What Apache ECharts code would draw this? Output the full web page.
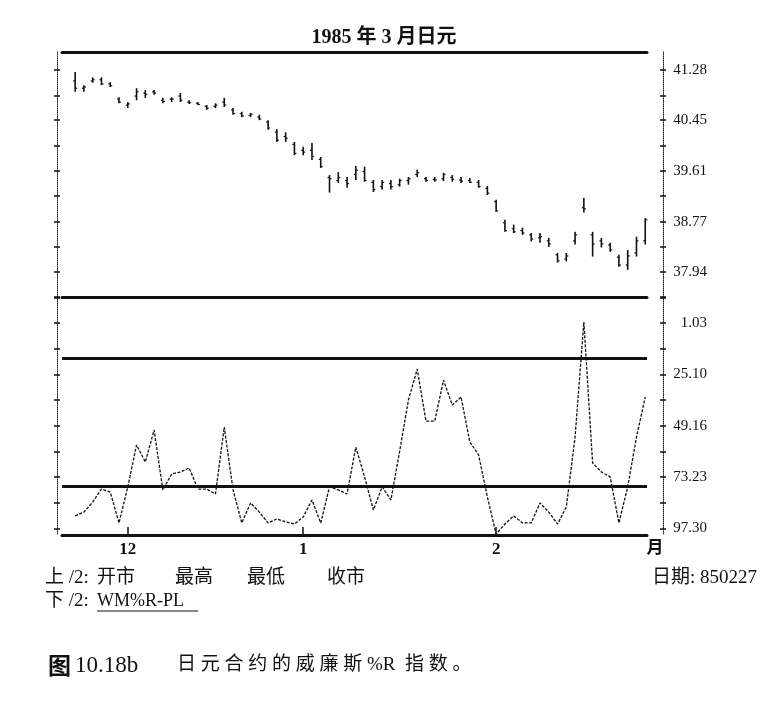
<!DOCTYPE html>
<html>
<head>
<meta charset="utf-8">
<title>日元合约的威廉斯%R指数</title>
<script src="https://cdn.jsdelivr.net/npm/echarts@6/dist/echarts.min.js"></script>
<style>
    html, body {margin: 0; padding: 0; background: #fff;}
    #main {width: 768px; height: 722px;}
</style>
</head>
<body>
<div id="main"></div>
<script>
// 交易日 841123 - 850227
var dates = ['841123','841126','841127','841128','841129','841130',
    '841203','841204','841205','841206','841207','841210','841211','841212','841213','841214',
    '841217','841218','841219','841220','841221','841224','841226','841227','841228','841231',
    '850102','850103','850104','850107','850108','850109','850110','850111','850114','850115',
    '850116','850117','850118','850121','850122','850123','850124','850125','850128','850129',
    '850130','850131',
    '850201','850204','850205','850206','850207','850208','850211','850212','850213','850214',
    '850215','850219','850220','850221','850222','850225','850226','850227'];

// 上图: 开市 最高 最低 收市
var openP = [41.10,40.98,41.10,41.12,41.05,40.80,40.70,40.85,40.90,40.92,
    40.78,40.80,40.85,40.75,40.73,40.68,40.68,40.75,40.62,40.56,
    40.53,40.50,40.42,40.25,40.18,40.05,39.95,39.95,39.80,39.50,
    39.45,39.45,39.55,39.60,39.42,39.35,39.40,39.38,39.45,39.55,
    39.48,39.47,39.48,39.50,39.46,39.45,39.42,39.32,39.10,38.75,
    38.65,38.62,38.55,38.50,38.45,38.22,38.15,38.45,39.00,38.55,
    38.45,38.38,38.18,38.05,38.25,38.45];
var highP = [41.25,41.03,41.16,41.16,41.08,40.83,40.75,40.98,40.95,40.95,
    40.82,40.83,40.90,40.78,40.75,40.70,40.73,40.82,40.65,40.59,
    40.57,40.54,40.45,40.30,40.25,40.09,40.01,40.07,39.84,39.54,
    39.59,39.51,39.69,39.68,39.46,39.46,39.46,39.48,39.51,39.63,
    39.51,39.51,39.58,39.54,39.51,39.49,39.46,39.36,39.13,38.80,
    38.72,38.67,38.58,38.58,38.50,38.25,38.25,38.60,39.16,38.60,
    38.50,38.42,38.22,38.30,38.52,38.83];
var lowP = [40.92,40.92,41.07,41.03,41.00,40.73,40.65,40.78,40.82,40.87,
    40.73,40.75,40.75,40.72,40.70,40.62,40.65,40.67,40.54,40.50,
    40.50,40.45,40.29,40.09,40.09,39.87,39.87,39.79,39.66,39.25,
    39.41,39.33,39.46,39.43,39.26,39.30,39.30,39.35,39.38,39.51,
    39.43,39.43,39.44,39.43,39.41,39.41,39.33,39.21,38.93,38.60,
    38.58,38.55,38.44,38.42,38.35,38.09,38.11,38.39,38.92,38.19,
    38.34,38.27,38.02,37.97,38.19,38.39];
var closeP = [40.98,41.00,41.12,41.05,41.02,40.75,40.72,40.92,40.88,40.90,
    40.76,40.80,40.78,40.74,40.71,40.65,40.70,40.70,40.56,40.52,
    40.55,40.47,40.32,40.12,40.15,39.90,39.92,39.85,39.68,39.48,
    39.50,39.40,39.62,39.45,39.30,39.42,39.35,39.45,39.48,39.58,
    39.45,39.46,39.55,39.47,39.44,39.42,39.35,39.24,38.95,38.62,
    38.60,38.58,38.48,38.52,38.40,38.12,38.20,38.55,38.98,38.40,
    38.40,38.30,38.05,38.20,38.45,38.80];

// 下图: WM%R
var wmr = [91.5,89.7,85.0,78.9,80.3,94.8,77.9,58.2,66.2,51.2,
    79.3,71.8,70.9,69.0,78.9,78.9,81.2,49.8,79.3,94.8,
    85.4,89.7,94.8,92.9,94.3,95.3,92.0,84.0,94.8,77.9,
    79.3,81.2,59.2,73.2,88.7,77.9,84.0,61.1,37.1,22.6,
    47.0,47.0,27.8,39.5,35.7,56.8,62.9,82.6,100,95.3,
    91.5,94.8,94.8,85.4,89.7,95.3,87.3,54.5,0.5,66.7,
    70.9,73.2,94.8,77.9,54.5,35.7];
var refLevels = [17.4, 77.5];

// 刻度
var priceTicks = [41.28,40.86,40.45,40.03,39.61,39.19,38.77,38.36,37.94,37.52];
var priceLabels = [41.28,40.45,39.61,38.77,37.94];
var wmrTicks = [-11.0,1.03,13.06,25.10,37.13,49.16,61.20,73.23,85.27,97.30];
var wmrLabels = [1.03,25.10,49.16,73.23,97.30];
var monthTickIdx = [6, 26, 48];
var monthLabels = ['12', '1', '2'];

var serif = "'Liberation Serif', 'Noto Sans CJK SC', serif";
var cjk = "'Liberation Serif', 'Noto Sans CJK SC', sans-serif";

function sideAxis(grid, pos, inside, showLabel, ticks, labels, min, max, inverse) {
    return {
        type: 'value',
        gridIndex: grid,
        position: pos,
        offset: pos === 'right' ? 16 : 5,
        min: min,
        max: max,
        inverse: inverse,
        axisLine: {show: !inside, onZero: false, lineStyle: {color: '#222', width: 1, type: 'dotted'}},
        axisTick: {show: true, inside: inside, length: 3, customValues: ticks,
            lineStyle: {color: '#111', width: 1.5}},
        axisLabel: {
            show: showLabel,
            customValues: labels,
            formatter: function (v) { return v.toFixed(2); },
            align: 'right',
            margin: 44,
            padding: [0, 0, 8, 0],
            fontFamily: serif,
            fontSize: 15,
            color: '#111'
        },
        splitLine: {show: false}
    };
}

function renderOHLC(params, api) {
    var x = api.value(0);
    var pO = api.coord([x, api.value(1)]);
    var pH = api.coord([x, api.value(2)]);
    var pL = api.coord([x, api.value(3)]);
    var pC = api.coord([x, api.value(4)]);
    var st = {stroke: '#111', lineWidth: 1.6};
    return {
        type: 'group',
        children: [
            {type: 'line', shape: {x1: pH[0], y1: pH[1], x2: pL[0], y2: pL[1]}, style: st},
            {type: 'line', shape: {x1: pO[0] - 2, y1: pO[1], x2: pO[0], y2: pO[1]}, style: {stroke: '#111', lineWidth: 1.2}},
            {type: 'line', shape: {x1: pC[0], y1: pC[1], x2: pC[0] + 2, y2: pC[1]}, style: {stroke: '#111', lineWidth: 1.2}}
        ]
    };
}

var ohlcData = dates.map(function (d, i) {
    return [i, openP[i], highP[i], lowP[i], closeP[i]];
});
var wmrData = dates.map(function (d, i) {
    return [i, wmr[i]];
});

var lineStyleThick = {color: '#111', width: 3};

function dayAxis(grid, pos) {
    return {
        type: 'value', gridIndex: grid, position: pos, min: -1.5, max: 65.2,
        axisLine: {show: true, onZero: false, lineStyle: lineStyleThick},
        axisTick: {show: false}, axisLabel: {show: false}, splitLine: {show: false}
    };
}

var monthAxis = dayAxis(1, 'bottom');
monthAxis.axisTick = {show: true, inside: true, length: 8, customValues: monthTickIdx,
    lineStyle: {color: '#111', width: 1.5}};
monthAxis.axisLabel = {
    show: true,
    customValues: monthTickIdx,
    formatter: function (v) { return monthLabels[monthTickIdx.indexOf(v)]; },
    margin: 6,
    fontFamily: serif,
    fontWeight: 'bold',
    fontSize: 17,
    color: '#111'
};

var myChart = echarts.init(document.getElementById('main'));
var option = {
    animation: false,
    backgroundColor: '#fff',
    grid: [
        {left: 62, right: 121, top: 52, height: 245},
        {left: 62, right: 121, top: 297, height: 238}
    ],
    xAxis: [dayAxis(0, 'bottom'), dayAxis(0, 'top'), monthAxis],
    yAxis: [
        sideAxis(0, 'right', false, true, priceTicks, priceLabels, 37.52, 41.58, false),
        sideAxis(0, 'right', true, false, priceTicks, priceLabels, 37.52, 41.58, false),
        sideAxis(0, 'left', false, false, priceTicks, priceLabels, 37.52, 41.58, false),
        sideAxis(0, 'left', true, false, priceTicks, priceLabels, 37.52, 41.58, false),
        sideAxis(1, 'right', false, true, wmrTicks, wmrLabels, -11.2, 100.45, true),
        sideAxis(1, 'right', true, false, wmrTicks, wmrLabels, -11.2, 100.45, true),
        sideAxis(1, 'left', false, false, wmrTicks, wmrLabels, -11.2, 100.45, true),
        sideAxis(1, 'left', true, false, wmrTicks, wmrLabels, -11.2, 100.45, true)
    ],
    series: [
        {
            name: '日元',
            type: 'custom',
            xAxisIndex: 0,
            yAxisIndex: 0,
            renderItem: renderOHLC,
            encode: {x: 0, y: [1, 2, 3, 4]},
            data: ohlcData
        },
        {
            name: 'WM%R-PL',
            type: 'line',
            xAxisIndex: 2,
            yAxisIndex: 4,
            symbol: 'none',
            lineStyle: {color: '#111', width: 1.3, type: [3, 1.5]},
            data: wmrData,
            markLine: {
                silent: true,
                symbol: ['none', 'none'],
                label: {show: false},
                lineStyle: {color: '#111', width: 3, type: 'solid'},
                data: refLevels.map(function (v) { return {yAxis: v}; })
            }
        }
    ],
    graphic: [
        {type: 'text', left: 'center', top: 28, style: {text: '1985 年 3 月日元', font: "bold 20px " + cjk, fill: '#111'}},
        {type: 'text', x: 655, y: 549, style: {text: '月', font: "bold 17px " + cjk, fill: '#111', align: 'center', verticalAlign: 'middle'}},
        {type: 'text', x: 45, y: 578, style: {text: '上 /2:', font: "19px " + cjk, fill: '#111', verticalAlign: 'middle'}},
        {type: 'text', x: 97, y: 578, style: {text: '开市', font: "19px " + cjk, fill: '#111', verticalAlign: 'middle'}},
        {type: 'text', x: 175, y: 578, style: {text: '最高', font: "19px " + cjk, fill: '#111', verticalAlign: 'middle'}},
        {type: 'text', x: 247, y: 578, style: {text: '最低', font: "19px " + cjk, fill: '#111', verticalAlign: 'middle'}},
        {type: 'text', x: 327, y: 578, style: {text: '收市', font: "19px " + cjk, fill: '#111', verticalAlign: 'middle'}},
        {type: 'text', x: 757, y: 578, style: {text: '日期: 850227', font: "19px " + cjk, fill: '#111', align: 'right', verticalAlign: 'middle'}},
        {type: 'text', x: 45, y: 601, style: {text: '下 /2:', font: "19px " + cjk, fill: '#111', verticalAlign: 'middle'}},
        {type: 'text', x: 97, y: 601, style: {text: 'WM%R-PL', font: "18px " + serif, fill: '#111', verticalAlign: 'middle'}},
        {type: 'line', shape: {x1: 97, y1: 611, x2: 198, y2: 611}, style: {stroke: '#111', lineWidth: 1}},
        {type: 'text', x: 48, y: 665, style: {text: '图', font: "bold 23px 'Noto Sans CJK SC'", fill: '#111', verticalAlign: 'middle'}},
        {type: 'text', x: 75, y: 666, style: {text: '10.18b', font: "23px " + serif, fill: '#111', verticalAlign: 'middle'}},
        {type: 'text', x: 177, y: 665, style: {text: '日 元 合 约 的 威 廉 斯 %R  指 数 。', font: "19px " + cjk, fill: '#111', verticalAlign: 'middle'}}
    ]
};
myChart.setOption(option, true);
window.onresize = function () {
    myChart.resize();
};
</script>
</body>
</html>
